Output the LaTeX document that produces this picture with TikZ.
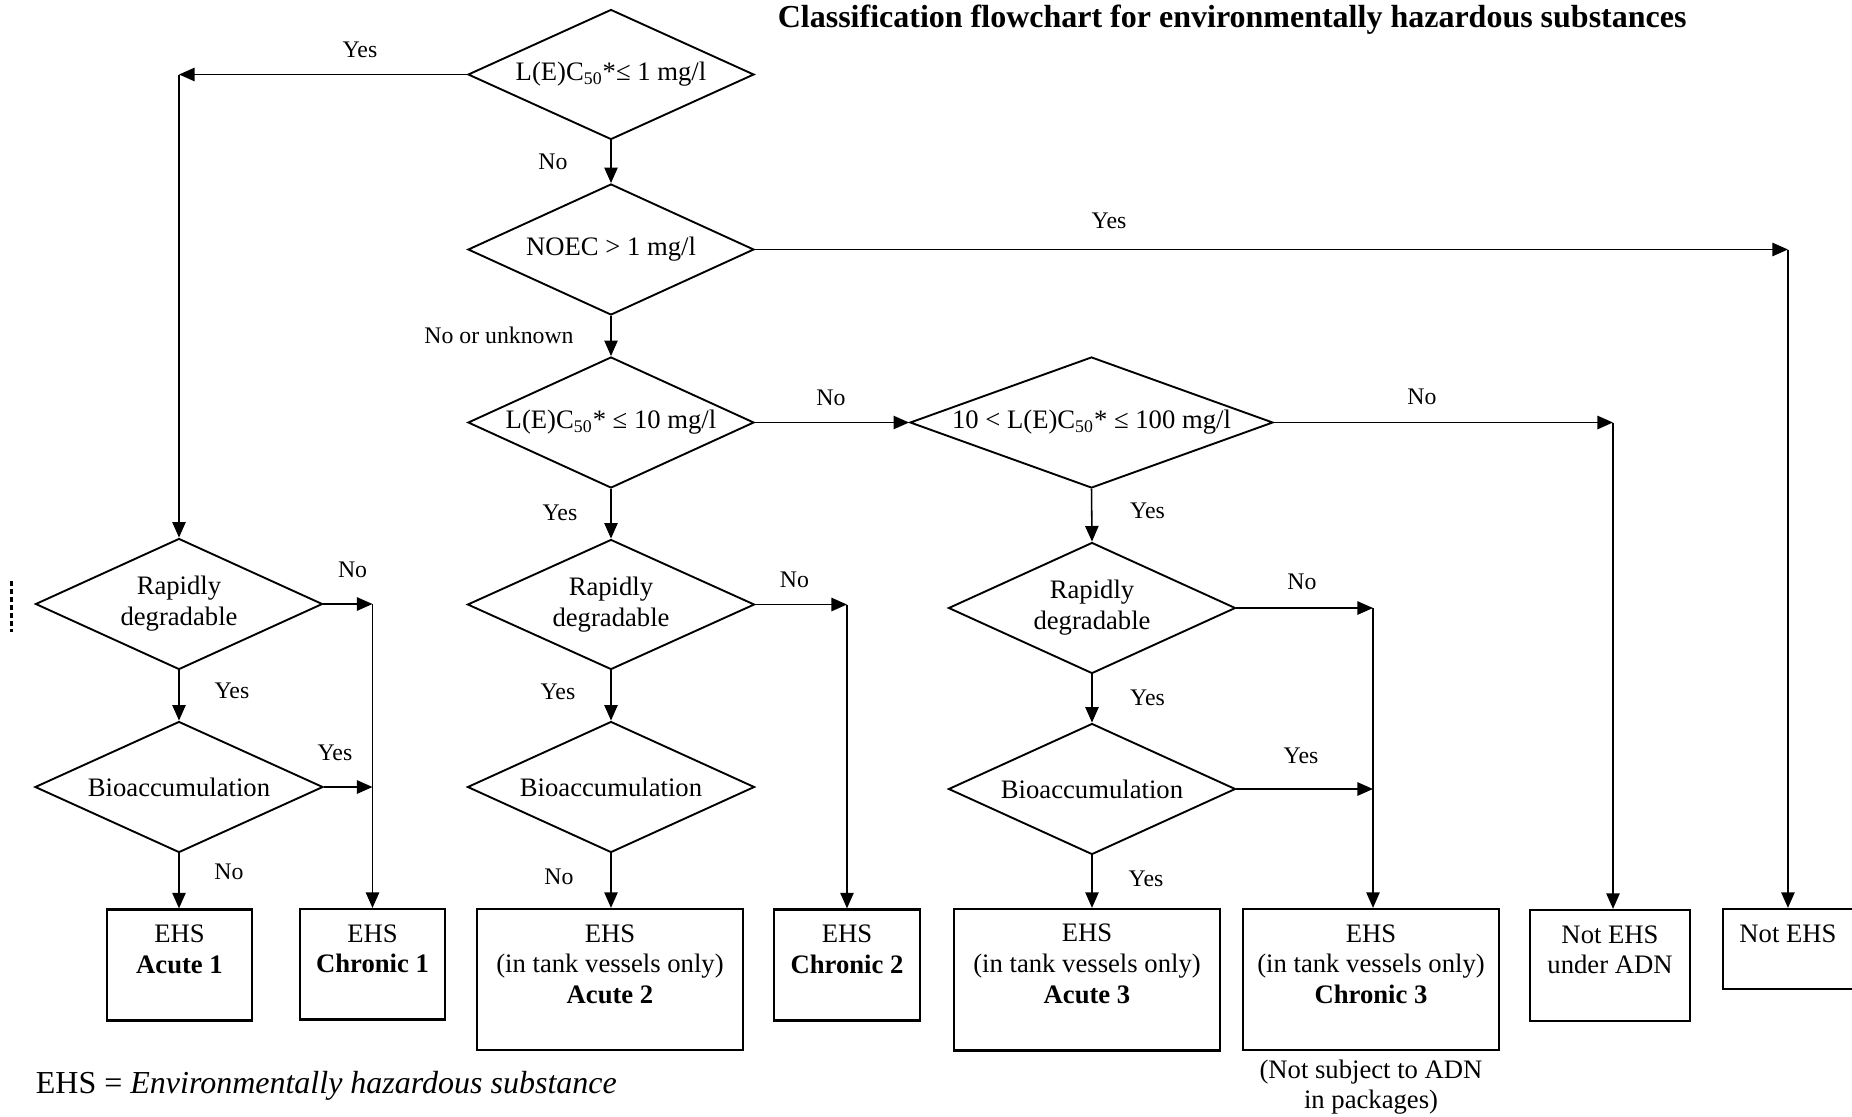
\documentclass[tikz,border=0pt]{standalone}
\usepackage{fontspec}
\setmainfont{Liberation Serif}
\usetikzlibrary{arrows.meta,shapes.geometric}
\tikzset{
  dia/.style n args={2}{shape=diamond, draw, line width=0.85pt, inner sep=0pt,
    minimum width={#1*0.45pt}, minimum height={#2*0.45pt}},
  box/.style n args={2}{draw, line width=1pt, inner sep=0pt,
    minimum width={#1*0.45pt}, minimum height={#2*0.45pt}},
  txt/.style={font=\fontsize{12}{13.9}\selectfont, inner sep=0pt, align=center},
  btxt/.style={txt, anchor=north, yshift=-7.2pt},
  lbl/.style={font=\fontsize{10.7}{12}\selectfont, inner sep=0pt, text height=7.1pt, text depth=0pt},
  arr/.style={line width=0.7pt, -{Triangle[length=7pt,width=6pt]}},
}
\begin{document}
\begin{tikzpicture}[x=0.45pt, y=-0.45pt]
\useasboundingbox (0,0) rectangle (1852,1116);
\clip (0,0) rectangle (1852,1116);

% title and footer
\node[anchor=base east, inner sep=0pt, font=\bfseries\fontsize{14.4}{16}\selectfont] (title) at (1687,27)
  {Classification flowchart for environmentally hazardous substances};
\node[anchor=base west, inner sep=0pt, font=\fontsize{14.4}{16}\selectfont] (foot) at (35.4,1093)
  {EHS = \textit{Environmentally hazardous substance}};

% decision diamonds
\node[dia={286}{130}] (d1) at (611,74.5) {};
\node[dia={286}{131}] (d2) at (611,249.5) {};
\node[dia={286}{131}] (d3) at (611,422.5) {};
\node[dia={363}{131}] (d4) at (1091.5,422.5) {};
\node[dia={287}{131}] (rd1) at (179,604) {};
\node[dia={287}{130}] (rd2) at (611,604.5) {};
\node[dia={287}{131}] (rd3) at (1092,608) {};
\node[dia={288}{131}] (bio1) at (179,787) {};
\node[dia={287}{131}] (bio2) at (611,787) {};
\node[dia={287}{131}] (bio3) at (1092,789) {};

\node[txt] (t1) at (d1) {L(E)C\textsubscript{50}*≤ 1 mg/l};
\node[txt] (t2) at (d2) {NOEC > 1 mg/l};
\node[txt] (t3) at (d3) {L(E)C\textsubscript{50}* ≤ 10 mg/l};
\node[txt] (t4) at (d4) {10 < L(E)C\textsubscript{50}* ≤ 100 mg/l};
\node[txt] (t5) at (rd1) {Rapidly\\degradable};
\node[txt] (t6) at (rd2) {Rapidly\\degradable};
\node[txt] (t7) at (rd3) {Rapidly\\degradable};
\node[txt] (t8) at (bio1) {Bioaccumulation};
\node[txt] (t9) at (bio2) {Bioaccumulation};
\node[txt] (t10) at (bio3) {Bioaccumulation};

% result boxes
\node[box={145}{111}] (a1) at (179.5,965) {};
\node[box={145}{110.5}] (c1) at (372.5,964.3) {};
\node[box={266}{141}] (a2) at (610,979.5) {};
\node[box={145.5}{111}] (c2) at (847,965) {};
\node[box={266}{141.5}] (a3) at (1087,979.7) {};
\node[box={256}{141}] (c3) at (1371,979.5) {};
\node[box={160}{111}] (na) at (1610,965.5) {};
\node[box={145}{80}] (ne) at (1795.5,949) {};

\node[btxt] (ta1) at (a1.north) {EHS\\\textbf{Acute 1}};
\node[btxt] (tc1) at (c1.north) {EHS\\\textbf{Chronic 1}};
\node[btxt] (ta2) at (a2.north) {EHS\\(in tank vessels only)\\\textbf{Acute 2}};
\node[btxt] (tc2) at (c2.north) {EHS\\\textbf{Chronic 2}};
\node[btxt] (ta3) at (a3.north) {EHS\\(in tank vessels only)\\\textbf{Acute 3}};
\node[btxt] (tc3) at (c3.north) {EHS\\(in tank vessels only)\\\textbf{Chronic 3}};
\node[btxt] (tna) at (na.north) {Not EHS\\under ADN};
\node[btxt] (tne) at ([xshift=-3.4pt]ne.north) {Not EHS};
\node[txt, anchor=north, yshift=-3.6pt] (note) at (c3.south) {(Not subject to ADN\\in packages)};

% connectors
\draw[arr] (d1.west) -- (d1.west -| rd1.north);
\draw[arr] (d1.west -| rd1.north) -- (rd1.north);
\draw[arr] (d1.south) -- (d2.north);
\draw[arr] (d2.east) -- (d2.east -| tne.north);
\draw[arr] (d2.east -| tne.north) -- (tne.north |- ne.north);
\draw[arr] (d2.south) -- (d3.north);
\draw[arr] (d3.east) -- (d4.west);
\draw[arr] (d3.south) -- (rd2.north);
\coordinate (kna) at ([xshift=1.35pt]na.north);
\draw[arr] (d4.east) -- (d4.east -| kna);
\draw[arr] (d4.east -| kna) -- (kna);
\draw[arr] (d4.south) -- (rd3.north);

\draw[arr] (rd1.east) -- (rd1.east -| c1.north);
\draw[arr] (rd1.east -| c1.north) -- (c1.north);
\draw[arr] (rd1.south) -- (bio1.north);
\draw[arr] (bio1.east) -- (bio1.east -| c1.north);
\draw[arr] (bio1.south) -- (bio1.south |- a1.north);

\draw[arr] (rd2.east) -- (rd2.east -| c2.north);
\draw[arr] (rd2.east -| c2.north) -- (c2.north);
\draw[arr] (rd2.south) -- (bio2.north);
\draw[arr] (bio2.south) -- (bio2.south |- a2.north);

\coordinate (kc3) at ([xshift=0.9pt]c3.north);
\draw[arr] (rd3.east) -- (rd3.east -| kc3);
\draw[arr] (rd3.east -| kc3) -- (kc3);
\draw[arr] (rd3.south) -- (bio3.north);
\draw[arr] (bio3.east) -- (bio3.east -| kc3);
\draw[arr] (bio3.south) -- (bio3.south |- a3.north);

% branch labels
\node[lbl] (l1) at (360,50) {Yes};
\node[lbl] (l2) at (553,162) {No};
\node[lbl] (l3) at (1109,221) {Yes};
\node[lbl] (l4) at (499,336) {No or unknown};
\node[lbl] (l5) at (831,398) {No};
\node[lbl] (l6) at (560,513) {Yes};
\node[lbl] (l7) at (1422,397) {No};
\node[lbl] (l8) at (1147.5,511) {Yes};
\node[lbl] (l9) at (352.6,570) {No};
\node[lbl] (l10) at (232,691) {Yes};
\node[lbl] (l11) at (794.5,580) {No};
\node[lbl] (l12) at (558,692) {Yes};
\node[lbl] (l13) at (1302,582) {No};
\node[lbl] (l14) at (1147.5,698) {Yes};
\node[lbl] (l15) at (335,753) {Yes};
\node[lbl] (l16) at (229,872) {No};
\node[lbl] (l17) at (559,877) {No};
\node[lbl] (l18) at (1301,756) {Yes};
\node[lbl] (l19) at (1146,879) {Yes};

% stray dashed mark at the left edge
\draw[line width=1.1pt, dash pattern=on 2.4pt off 1.2pt] (11.7,581) -- (11.7,632);
\end{tikzpicture}
\end{document}
